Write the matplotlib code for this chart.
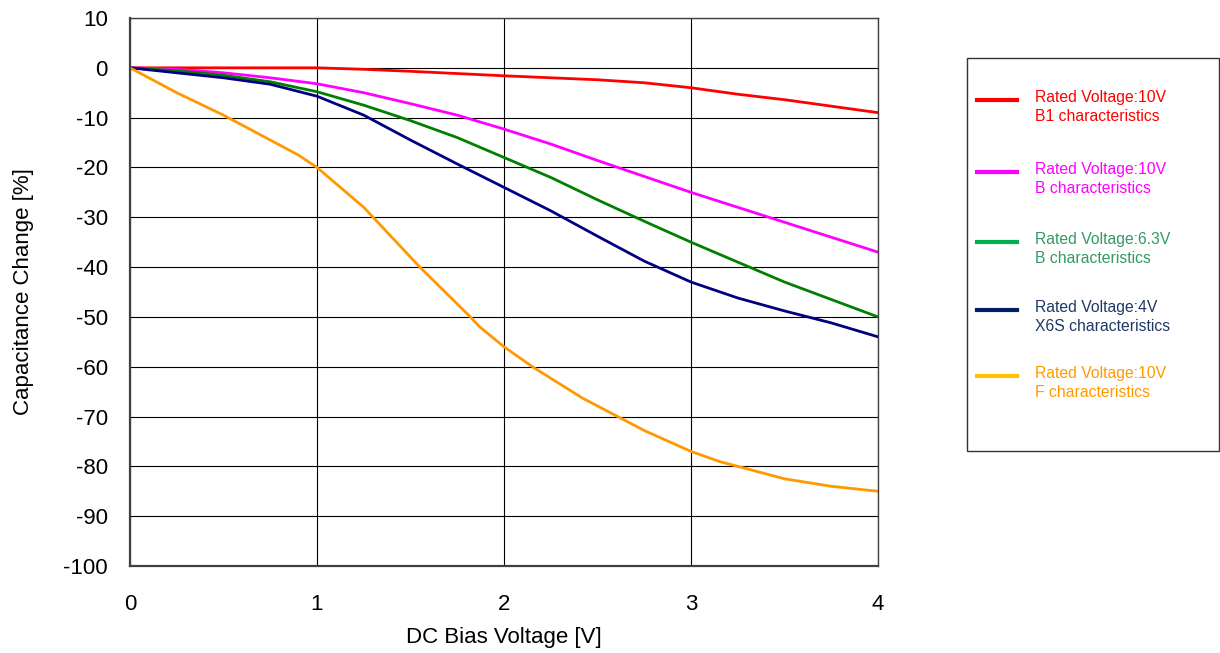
import matplotlib
matplotlib.use("Agg")
import matplotlib.pyplot as plt
from matplotlib.lines import Line2D
from matplotlib.patches import Rectangle

plt.rcParams['font.family'] = ['Liberation Sans', 'DejaVu Sans']
plt.rcParams['axes.unicode_minus'] = False

# Data
v_red = [0, 0.5, 1.0, 1.25, 1.5, 2.0, 2.5, 2.75, 3.0, 3.25, 3.5, 4.0]
c_red = [0, 0, 0, -0.3, -0.7, -1.6, -2.4, -3.0, -4.0, -5.3, -6.4, -9.0]

v_mag = [0, 0.25, 0.5, 0.75, 1.0, 1.25, 1.5, 1.75, 2.0, 2.25, 2.5, 2.75, 3.0, 3.25, 3.5, 3.75, 4.0]
c_mag = [0, -0.3, -1.0, -2.0, -3.2, -5.0, -7.2, -9.5, -12.3, -15.3, -18.6, -21.8, -25.0, -28.0, -31.0, -34.0, -37.0]

v_grn = [0, 0.25, 0.5, 0.75, 1.0, 1.25, 1.5, 1.75, 2.0, 2.25, 2.5, 2.75, 3.0, 3.25, 3.5, 3.75, 4.0]
c_grn = [0, -0.6, -1.5, -2.8, -4.8, -7.5, -10.6, -14.0, -18.0, -22.0, -26.5, -30.8, -35.0, -39.0, -43.0, -46.5, -50.0]

v_nav = [0, 0.25, 0.5, 0.75, 1.0, 1.25, 1.5, 1.75, 2.0, 2.25, 2.5, 2.75, 3.0, 3.25, 3.5, 3.75, 4.0]
c_nav = [0, -1.0, -2.0, -3.3, -5.7, -9.5, -14.5, -19.3, -24.0, -28.7, -33.8, -38.8, -43.0, -46.2, -48.8, -51.2, -54.0]

v_org = [0, 0.25, 0.5, 0.6, 0.75, 0.9, 1.0, 1.25, 1.3, 1.55, 1.82, 1.87, 2.0, 2.16, 2.42, 2.75, 3.0, 3.15, 3.25, 3.5, 3.75, 4.0]
c_org = [0, -5.0, -9.5, -11.5, -14.5, -17.5, -20.0, -28.0, -30.0, -40.0, -50.0, -52.0, -56.0, -60.2, -66.3, -72.8, -77.0, -79.0, -80.0, -82.5, -84.0, -85.0]

labels = [
    "Rated Voltage:10V\nB1 characteristics",
    "Rated Voltage:10V\nB characteristics",
    "Rated Voltage:6.3V\nB characteristics",
    "Rated Voltage:4V\nX6S characteristics",
    "Rated Voltage:10V\nF characteristics",
]
xticks = [0, 1, 2, 3, 4]
yticks = list(range(-100, 11, 10))

series = [(v_red, c_red), (v_mag, c_mag), (v_grn, c_grn), (v_nav, c_nav), (v_org, c_org)]
line_colors = ['#FF0000', '#FF00FF', '#008000', '#000080', '#FF9900']
leg_line_colors = ['#FF0000', '#FF00FF', '#00B050', '#002060', '#FFC000']
text_colors = ['#FF0000', '#FF00FF', '#339966', '#1F3864', '#FF9900']

fig = plt.figure(figsize=(12.2, 6.53), dpi=100)
ax = fig.add_axes([130/1220, 1-566/653, (878-130)/1220, (566-18)/653])

for (x, y), col in zip(series, line_colors):
    ax.plot(x, y, color=col, lw=2.0, solid_joinstyle='round')

ax.set_xlim(0, 4)
ax.set_ylim(-100, 10)
ax.set_xticks(xticks)
ax.set_yticks(yticks)
ax.grid(True, color='black', lw=0.8)
ax.set_axisbelow(True)
for s in ax.spines.values():
    s.set_color('#404040')
    s.set_linewidth(1.0)
ax.spines['left'].set_linewidth(1.6)
ax.spines['bottom'].set_linewidth(1.6)
ax.tick_params(axis='y', labelsize=16, length=0, pad=16)
ax.tick_params(axis='x', labelsize=16, length=0, pad=20)
ax.set_xlabel("DC Bias Voltage [V]", fontsize=16, labelpad=9)
ax.set_ylabel("Capacitance Change [%]", fontsize=16, labelpad=21)

# Legend box
W, H = 1220, 653
fig.add_artist(Rectangle((967/W, 1-451/H), (1219-967)/W, (451-58)/H,
                         transform=fig.transFigure, fill=False,
                         edgecolor='#333333', lw=1.0))
line_y = [100, 172, 242, 310, 376]
for ly, lab, lc, tc in zip(line_y, labels, leg_line_colors, text_colors):
    fig.add_artist(Line2D([977/W, 1017/W], [1-ly/H, 1-ly/H], transform=fig.transFigure,
                          color=lc, lw=3))
    fig.text(1035/W, 1-(ly+7)/H, lab, color=tc, fontsize=11.3, va='center', ha='left',
             linespacing=1.35)

fig.savefig("out.png", dpi=100)
